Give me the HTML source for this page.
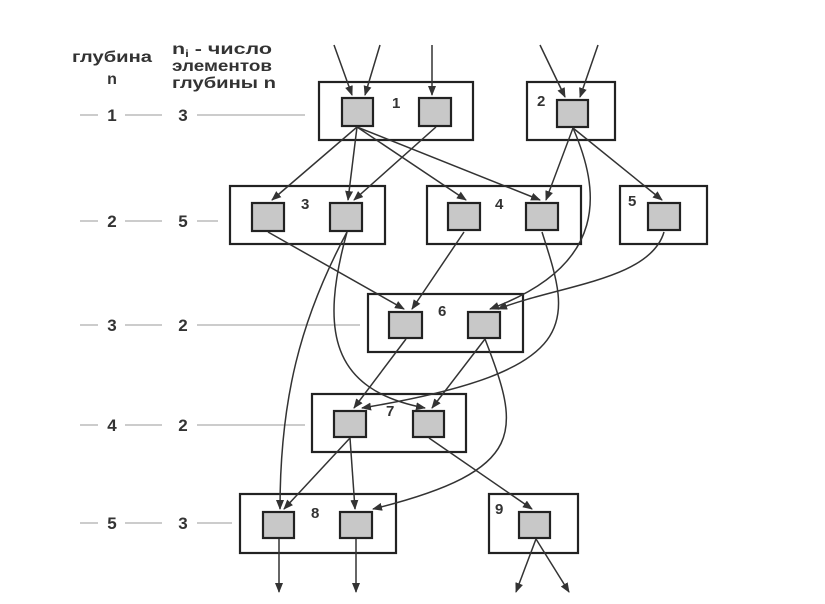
<!DOCTYPE html>
<html><head><meta charset="utf-8"><style>
html,body{margin:0;padding:0;background:#fff;}
svg{display:block;}
text{font-family:"Liberation Sans",sans-serif;font-weight:bold;fill:#333;}
</style></head><body>
<svg width="825" height="604" viewBox="0 0 825 604" xmlns="http://www.w3.org/2000/svg">
<defs>
<marker id="a" markerWidth="10" markerHeight="8" refX="9" refY="4" orient="auto" markerUnits="userSpaceOnUse">
<path d="M0,0 L10,4 L0,8 Z" fill="#333"/></marker>
</defs>
<text x="72" y="62" font-size="16" textLength="80" lengthAdjust="spacingAndGlyphs">глубина</text>
<text x="112" y="84" font-size="16" text-anchor="middle">n</text>
<text x="172" y="54" font-size="16" textLength="100" lengthAdjust="spacingAndGlyphs">n<tspan font-size="10" dy="3">i</tspan><tspan dy="-3"> - число</tspan></text>
<text x="172" y="71" font-size="16" textLength="100" lengthAdjust="spacingAndGlyphs">элементов</text>
<text x="172" y="88" font-size="16" textLength="104" lengthAdjust="spacingAndGlyphs">глубины n</text>
<g stroke="#bbb" stroke-width="1.5">
<line x1="80" y1="115" x2="98" y2="115"/><line x1="125" y1="115" x2="162" y2="115"/><line x1="197" y1="115" x2="305" y2="115"/>
<line x1="80" y1="221" x2="98" y2="221"/><line x1="125" y1="221" x2="162" y2="221"/><line x1="197" y1="221" x2="218" y2="221"/>
<line x1="80" y1="325" x2="98" y2="325"/><line x1="125" y1="325" x2="162" y2="325"/><line x1="197" y1="325" x2="360" y2="325"/>
<line x1="80" y1="425" x2="98" y2="425"/><line x1="125" y1="425" x2="162" y2="425"/><line x1="197" y1="425" x2="305" y2="425"/>
<line x1="80" y1="523" x2="98" y2="523"/><line x1="125" y1="523" x2="162" y2="523"/><line x1="197" y1="523" x2="232" y2="523"/>
</g>
<g font-size="17">
<text x="112" y="121" text-anchor="middle">1</text><text x="183" y="121" text-anchor="middle">3</text>
<text x="112" y="227" text-anchor="middle">2</text><text x="183" y="227" text-anchor="middle">5</text>
<text x="112" y="331" text-anchor="middle">3</text><text x="183" y="331" text-anchor="middle">2</text>
<text x="112" y="431" text-anchor="middle">4</text><text x="183" y="431" text-anchor="middle">2</text>
<text x="112" y="529" text-anchor="middle">5</text><text x="183" y="529" text-anchor="middle">3</text>
</g>
<g fill="none" stroke="#222" stroke-width="2.2">
<rect x="319" y="82" width="154" height="58"/>
<rect x="527" y="82" width="88" height="58"/>
<rect x="230" y="186" width="155" height="58"/>
<rect x="427" y="186" width="154" height="58"/>
<rect x="620" y="186" width="87" height="58"/>
<rect x="368" y="294" width="155" height="58"/>
<rect x="312" y="394" width="154" height="58"/>
<rect x="240" y="494" width="156" height="59"/>
<rect x="489" y="494" width="89" height="59"/>
</g>
<g fill="#c8c8c8" stroke="#222" stroke-width="2.2">
<rect x="342" y="98" width="31" height="28"/><rect x="419" y="98" width="32" height="28"/>
<rect x="557" y="100" width="31" height="27"/>
<rect x="252" y="203" width="32" height="28"/><rect x="330" y="203" width="32" height="28"/>
<rect x="448" y="203" width="32" height="27"/><rect x="526" y="203" width="32" height="27"/>
<rect x="648" y="203" width="32" height="27"/>
<rect x="389" y="312" width="33" height="26"/><rect x="468" y="312" width="32" height="26"/>
<rect x="334" y="411" width="32" height="26"/><rect x="413" y="411" width="31" height="26"/>
<rect x="263" y="512" width="31" height="26"/><rect x="340" y="512" width="32" height="26"/>
<rect x="519" y="512" width="31" height="26"/>
</g>
<g font-size="15">
<text x="392" y="108">1</text><text x="537" y="106">2</text>
<text x="301" y="209">3</text><text x="495" y="209">4</text><text x="628" y="206">5</text>
<text x="438" y="316">6</text><text x="386" y="416">7</text><text x="311" y="518">8</text><text x="495" y="514">9</text>
</g>
<g fill="none" stroke="#333" stroke-width="1.5" marker-end="url(#a)">
<line x1="334" y1="45" x2="352" y2="95"/>
<line x1="380" y1="45" x2="365" y2="95"/>
<line x1="432" y1="45" x2="432" y2="95"/>
<line x1="540" y1="45" x2="565" y2="97"/>
<line x1="598" y1="45" x2="580" y2="97"/>
<line x1="357" y1="127" x2="272" y2="200"/>
<line x1="357" y1="127" x2="348" y2="200"/>
<line x1="357" y1="127" x2="466" y2="200"/>
<line x1="357" y1="127" x2="540" y2="200"/>
<line x1="436" y1="127" x2="354" y2="200"/>
<line x1="573" y1="128" x2="546" y2="200"/>
<line x1="573" y1="128" x2="662" y2="200"/>
<path d="M573,128 C600,190 610,265 490,309"/>
<line x1="268" y1="232" x2="404" y2="309"/>
<line x1="464" y1="232" x2="412" y2="309"/>
<path d="M664,232 C650,280 560,285 498,309"/>
<path d="M347,232 C300,320 280,400 280,509"/>
<path d="M347,232 C320,330 330,390 425,408"/>
<path d="M542,232 C570,320 590,370 362,408"/>
<line x1="406" y1="339" x2="354" y2="408"/>
<line x1="485" y1="339" x2="432" y2="408"/>
<path d="M485,339 C520,430 530,470 373,509"/>
<line x1="350" y1="438" x2="284" y2="509"/>
<line x1="350" y1="438" x2="355" y2="509"/>
<line x1="429" y1="438" x2="532" y2="509"/>
<line x1="279" y1="539" x2="279" y2="592"/>
<line x1="356" y1="539" x2="356" y2="592"/>
<line x1="536" y1="539" x2="516" y2="592"/>
<line x1="536" y1="539" x2="569" y2="592"/>
</g>
</svg>
</body></html>
